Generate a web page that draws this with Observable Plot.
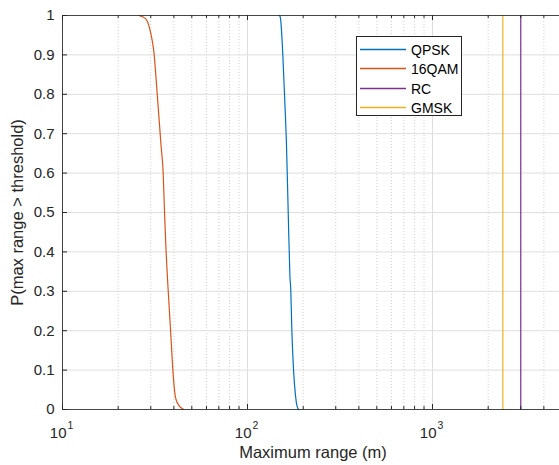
<!DOCTYPE html>
<html>
<head>
<meta charset="utf-8">
<script src="https://cdn.jsdelivr.net/npm/d3@7"></script>
<script src="https://cdn.jsdelivr.net/npm/@observablehq/plot@0.6"></script>
<style>
  html, body { margin: 0; padding: 0; background: white; overflow: hidden; }
  #wrap { position: relative; width: 559px; height: 465px; font-family: "Liberation Sans", Arial, sans-serif; }
  #legend { position: absolute; left: 356px; top: 36px; width: 104px; height: 78px; border: 1px solid #262626; background: white; box-sizing: content-box; }
  .row { position: absolute; left: 0; height: 19px; display: flex; align-items: center; font-size: 14px; color: #000; }
  .row svg { display: block; margin-left: 3px; margin-right: 5px; }
</style>
</head>
<body>
<div id="wrap"><div id="legend"></div></div>
<script>
// ---- data ----
const qpskRange = [149, 150.5, 152, 155.3, 158.5, 162.5, 166, 169.5, 171.5, 173.7, 177.4, 181.7, 185, 189];
const qpskP     = [1, 0.995, 0.975, 0.898, 0.80, 0.67, 0.5, 0.34, 0.30, 0.20, 0.10, 0.036, 0.01, 0];
const qamRange  = [25.8, 28.1, 29.9, 31.2, 32.5, 34.1, 35.0, 35.6, 36.3, 37.0, 38.4, 39.5, 40.8, 42.6, 45.3];
const qamP      = [1, 0.992, 0.958, 0.907, 0.801, 0.670, 0.601, 0.501, 0.401, 0.327, 0.2, 0.1, 0.031, 0.01, 0];
const rcRange   = [3000, 3000];
const rcP       = [1, 0];
const gmskRange = [2400, 2400];
const gmskP     = [1, 0];

const seriesNames  = ["QPSK", "16QAM", "RC", "GMSK"];
const seriesColors = ["#0072BD", "#D95319", "#7E2F8E", "#EDB120"];

const xDomain = [10, 5000];
const xMajor = [10, 100, 1000];
const xExp = ["1", "2", "3"];
const xMinor = [20, 30, 40, 50, 60, 70, 80, 90, 200, 300, 400, 500, 600, 700, 800, 900, 2000, 3000, 4000];
const yTicks = [0, 0.1, 0.2, 0.3, 0.4, 0.5, 0.6, 0.7, 0.8, 0.9, 1];
const yTickLabels = ["0", "0.1", "0.2", "0.3", "0.4", "0.5", "0.6", "0.7", "0.8", "0.9", "1"];
const xLabel = "Maximum range (m)";
const yLabel = "P(max range > threshold)";

// ---- build ----
const toRows = (xs, ys, name) => xs.map((x, i) => ({x, y: ys[i], name}));
const rows = [
  ...toRows(qpskRange, qpskP, "QPSK"),
  ...toRows(qamRange, qamP, "16QAM"),
  ...toRows(rcRange, rcP, "RC"),
  ...toRows(gmskRange, gmskP, "GMSK")
];
const axisColor = "#262626";

const chart = Plot.plot({
  width: 559,
  height: 465,
  marginLeft: 62, marginRight: 0, marginTop: 15, marginBottom: 56,
  x: {type: "log", domain: xDomain, range: [62, 561.3], axis: null},
  y: {domain: [0, 1], range: [409, 15], axis: null},
  color: {domain: seriesNames, range: seriesColors},
  style: {fontFamily: "Liberation Sans, Arial, sans-serif", background: "white", color: axisColor, overflow: "hidden"},
  marks: [
    // minor grid (dotted)
    Plot.ruleX(xMinor, {x: d => d, y1: 0, y2: 1, stroke: "#c4c4c4", strokeWidth: 1, strokeDasharray: "1,2", strokeOpacity: 0.8}),
    // major grid
    Plot.ruleX(xMajor, {x: d => d, y1: 0, y2: 1, stroke: "#dedede", strokeWidth: 1}),
    Plot.ruleY(yTicks.slice(1, -1), {y: d => d, x1: xDomain[0], x2: xDomain[1], stroke: "#dedede", strokeWidth: 1}),
    // data
    Plot.line(rows, {x: "x", y: "y", z: "name", stroke: "name", strokeWidth: 1.2, curve: "monotone-x"}),
    // axes box
    Plot.ruleY([0, 1], {y: d => d, x1: xDomain[0], x2: xDomain[1], stroke: axisColor, strokeWidth: 1, strokeOpacity: 0.85}),
    Plot.ruleX([xDomain[0], xDomain[1]], {x: d => d, y1: 0, y2: 1, stroke: axisColor, strokeWidth: 1, strokeOpacity: 0.85}),
    // x ticks bottom and top (inside)
    Plot.ruleX(xMajor, {x: d => d, y1: 0, y2: 0, insetBottom: 5, stroke: axisColor, strokeWidth: 1}),
    Plot.ruleX(xMajor, {x: d => d, y1: 1, y2: 1, insetBottom: -5, stroke: axisColor, strokeWidth: 1}),
    Plot.ruleX(xMinor, {x: d => d, y1: 0, y2: 0, insetBottom: 3, stroke: axisColor, strokeWidth: 1}),
    Plot.ruleX(xMinor, {x: d => d, y1: 1, y2: 1, insetBottom: -3, stroke: axisColor, strokeWidth: 1}),
    // y ticks left and right (inside)
    Plot.ruleY(yTicks, {y: d => d, x1: xDomain[0], x2: xDomain[0], insetRight: -5, stroke: axisColor, strokeWidth: 1}),
    Plot.ruleY(yTicks, {y: d => d, x1: xDomain[1], x2: xDomain[1], insetLeft: 5, insetRight: 0, stroke: axisColor, strokeWidth: 1}),
    // y tick labels
    Plot.text(yTicks, {x: xDomain[0], y: d => d, text: (d, i) => yTickLabels[i], textAnchor: "end", dx: -8, fontSize: 15, fill: axisColor}),
    // x tick labels 10^n
    Plot.text(xMajor, {x: d => d, y: 0, text: () => "10", textAnchor: "end", lineAnchor: "bottom", dx: 4, dy: 28, fontSize: 15, fill: axisColor}),
    Plot.text(xMajor, {x: d => d, y: 0, text: (d, i) => xExp[i], textAnchor: "start", lineAnchor: "bottom", dx: 5, dy: 19, fontSize: 10.5, fill: axisColor}),
    // axis labels
    Plot.text([xLabel], {frameAnchor: "bottom", text: d => d, lineAnchor: "bottom", dy: 48, dx: 2, fontSize: 16.5, fill: axisColor}),
    Plot.text([yLabel], {x: xDomain[0], y: 0.5, text: d => d, rotate: -90, dx: -45, lineAnchor: "middle", textAnchor: "middle", fontSize: 16.5, fill: axisColor})
  ]
});
const wrap = document.getElementById("wrap");
wrap.insertBefore(chart, wrap.firstChild);

// legend overlay
const legend = document.getElementById("legend");
const legendOrder = ["QPSK", "16QAM", "RC", "GMSK"];
const svgNS = "http://www.w3.org/2000/svg";
legendOrder.forEach((name, i) => {
  const row = document.createElement("div");
  row.className = "row";
  row.style.top = Math.round(3 + i * 19.3) + "px";
  const sw = document.createElementNS(svgNS, "svg");
  sw.setAttribute("width", "46");
  sw.setAttribute("height", "19");
  const ln = document.createElementNS(svgNS, "line");
  ln.setAttribute("x1", "0"); ln.setAttribute("x2", "46");
  ln.setAttribute("y1", "9.5"); ln.setAttribute("y2", "9.5");
  ln.setAttribute("stroke", seriesColors[seriesNames.indexOf(name)]);
  ln.setAttribute("stroke-width", "1.5");
  sw.appendChild(ln);
  const label = document.createElement("span");
  label.textContent = name;
  row.appendChild(sw);
  row.appendChild(label);
  legend.appendChild(row);
});
</script>
</body>
</html>
